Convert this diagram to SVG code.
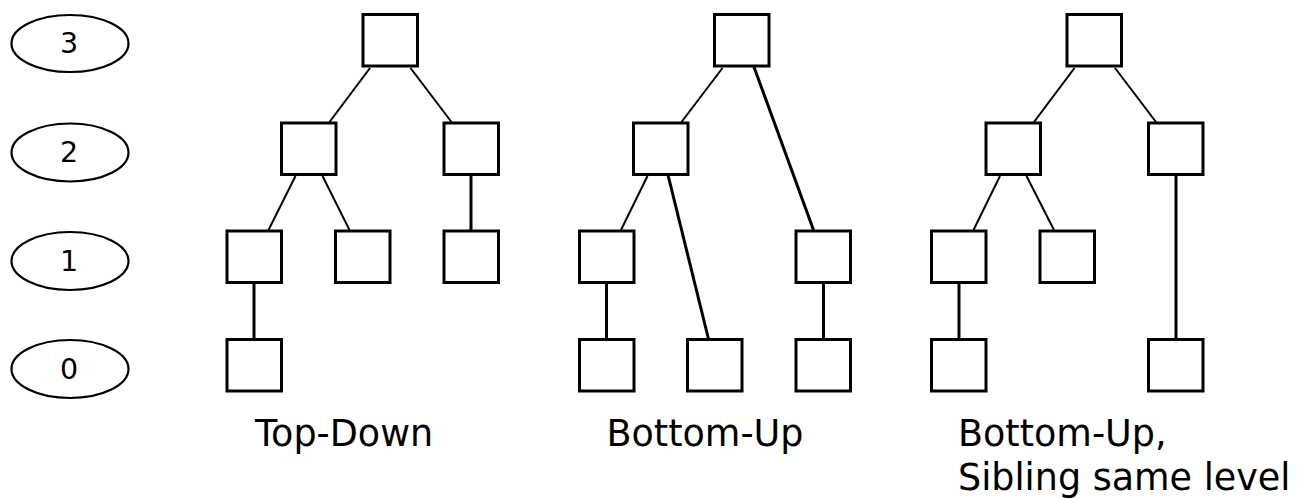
<svg xmlns="http://www.w3.org/2000/svg" width="1297" height="499" viewBox="0 0 1297 499">
  <style>
    .lvl { fill: #fff; stroke: #000; stroke-width: 2.2; }
    .lvl-t { font-family: "DejaVu Sans", Verdana, sans-serif; font-size: 28.5px; fill: #000; text-anchor: middle; }
    .box { fill: #fff; stroke: #000; stroke-width: 3; }
    .thin { stroke: #000; stroke-width: 2; fill: none; }
    .thick { stroke: #000; stroke-width: 3; fill: none; }
    .cap { font-family: "DejaVu Sans", Verdana, sans-serif; font-size: 36.5px; fill: #000; }
  </style>
  <rect width="1297" height="499" fill="#fff"/>

  <!-- level markers -->
  <g id="level-3"><ellipse class="lvl" cx="70" cy="43.5" rx="58.5" ry="28.5"/><text class="lvl-t" x="69" y="53">3</text></g>
  <g id="level-2"><ellipse class="lvl" cx="70" cy="152.5" rx="58.5" ry="29"/><text class="lvl-t" x="69" y="162">2</text></g>
  <g id="level-1"><ellipse class="lvl" cx="70" cy="261" rx="58.5" ry="29"/><text class="lvl-t" x="69" y="270.5">1</text></g>
  <g id="level-0"><ellipse class="lvl" cx="70" cy="369" rx="58.5" ry="29"/><text class="lvl-t" x="69" y="378.5">0</text></g>

  <!-- connectors -->
  <g id="connectors">
    <!-- top-down tree -->
    <line class="thin" x1="370" y1="68" x2="329.5" y2="122"/>
    <line class="thin" x1="410.5" y1="68" x2="451.5" y2="122"/>
    <line class="thin" x1="295.5" y1="176" x2="268.5" y2="230"/>
    <line class="thin" x1="322.5" y1="176" x2="349.5" y2="230"/>
    <line class="thick" x1="471" y1="174" x2="471" y2="231"/>
    <line class="thick" x1="254" y1="283" x2="254" y2="339"/>
    <!-- bottom-up tree -->
    <line class="thin" x1="722.5" y1="68" x2="681.5" y2="122"/>
    <line class="thick" x1="754" y1="67" x2="813.5" y2="230"/>
    <line class="thin" x1="647.5" y1="176" x2="621" y2="230"/>
    <line class="thick" x1="668" y1="175" x2="708.5" y2="339"/>
    <line class="thick" x1="606.5" y1="283" x2="606.5" y2="339"/>
    <line class="thick" x1="823.5" y1="283" x2="823.5" y2="339"/>
    <!-- bottom-up, sibling same level tree -->
    <line class="thin" x1="1074.5" y1="68" x2="1034" y2="122"/>
    <line class="thin" x1="1115" y1="68" x2="1156" y2="122"/>
    <line class="thin" x1="1000" y1="176" x2="973.5" y2="230"/>
    <line class="thin" x1="1026.5" y1="176" x2="1054" y2="230"/>
    <line class="thick" x1="1176" y1="174" x2="1176" y2="339"/>
    <line class="thick" x1="959" y1="283" x2="959" y2="339"/>
  </g>

  <!-- top-down tree nodes -->
  <g id="td-root"><rect class="box" x="363" y="14.5" width="54.5" height="51.5"/></g>
  <g id="td-l2a"><rect class="box" x="281.5" y="123" width="54.5" height="51.5"/></g>
  <g id="td-l2b"><rect class="box" x="444" y="123" width="54.5" height="51.5"/></g>
  <g id="td-l1a"><rect class="box" x="227" y="231" width="54.5" height="51.5"/></g>
  <g id="td-l1b"><rect class="box" x="335.5" y="231" width="54.5" height="51.5"/></g>
  <g id="td-l1c"><rect class="box" x="444" y="231" width="54.5" height="51.5"/></g>
  <g id="td-l0a"><rect class="box" x="227" y="339.5" width="54.5" height="51.5"/></g>

  <!-- bottom-up tree nodes -->
  <g id="bu-root"><rect class="box" x="714.5" y="14.5" width="54.5" height="51.5"/></g>
  <g id="bu-l2a"><rect class="box" x="633.5" y="123" width="54.5" height="51.5"/></g>
  <g id="bu-l1a"><rect class="box" x="579.5" y="231" width="54.5" height="51.5"/></g>
  <g id="bu-l1b"><rect class="box" x="796" y="231" width="54.5" height="51.5"/></g>
  <g id="bu-l0a"><rect class="box" x="579.5" y="339.5" width="54.5" height="51.5"/></g>
  <g id="bu-l0b"><rect class="box" x="687.5" y="339.5" width="54.5" height="51.5"/></g>
  <g id="bu-l0c"><rect class="box" x="796" y="339.5" width="54.5" height="51.5"/></g>

  <!-- bottom-up, sibling same level tree nodes -->
  <g id="bs-root"><rect class="box" x="1067" y="14.5" width="54.5" height="51.5"/></g>
  <g id="bs-l2a"><rect class="box" x="986" y="123" width="54.5" height="51.5"/></g>
  <g id="bs-l2b"><rect class="box" x="1148.5" y="123" width="54.5" height="51.5"/></g>
  <g id="bs-l1a"><rect class="box" x="931.5" y="231" width="54.5" height="51.5"/></g>
  <g id="bs-l1b"><rect class="box" x="1040" y="231" width="54.5" height="51.5"/></g>
  <g id="bs-l0a"><rect class="box" x="931.5" y="339.5" width="54.5" height="51.5"/></g>
  <g id="bs-l0b"><rect class="box" x="1148.5" y="339.5" width="54.5" height="51.5"/></g>

  <!-- captions -->
  <g id="captions">
    <text class="cap" x="255" y="446">Top-Down</text>
    <text class="cap" x="606.5" y="446">Bottom-Up</text>
    <text class="cap" x="958" y="446">Bottom-Up,</text>
    <text class="cap" x="958" y="490">Sibling same level</text>
  </g>
</svg>
